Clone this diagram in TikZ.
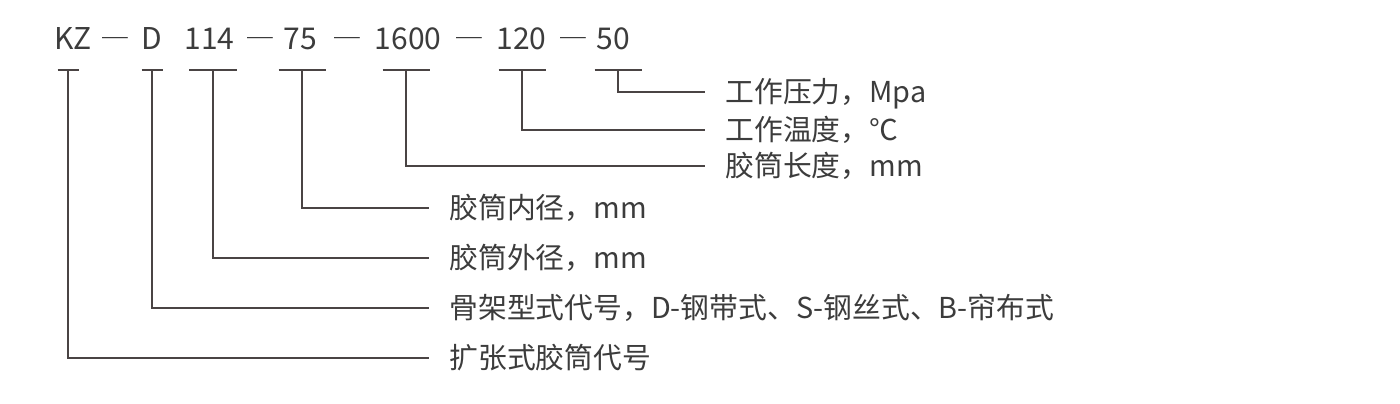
\documentclass[tikz,border=0pt]{standalone}
\usepackage{fontspec}
\setmainfont{Noto Sans CJK SC}
\definecolor{txtgray}{HTML}{3C3C3C}
\definecolor{linegray}{HTML}{4A4444}
\newcommand{\codedash}{\scalebox{0.86}[1]{─}}

\begin{document}
\begin{tikzpicture}[x=0.5pt, y=-0.5pt,
  code/.style={font=\fontsize{15}{18}\selectfont, anchor=base, inner sep=0pt, text=txtgray},
  lab/.style={font=\fontsize{14.4}{17}\selectfont, anchor=west, inner sep=0pt, text=txtgray, text height=11.8pt, text depth=1.6pt},
  bar/.style={line width=0.7pt, draw=linegray},
  conn/.style={line width=0.7pt, draw=linegray, shorten >=10pt}]

\useasboundingbox (0,0) rectangle (1400,403);

% Model code
\node[code] (kz) at (73,49) {KZ};
\node[code] (dash1) at (115.5,49) {\codedash};
\node[code] (frame) at (151.5,49) {D};
\node[code] (outer) at (209.5,49) {114};
\node[code] (dash2) at (260,49) {\codedash};
\node[code] (inner) at (300,49) {75};
\node[code] (dash3) at (347,49) {\codedash};
\node[code] (len) at (408,49) {1600};
\node[code] (dash4) at (469.5,49) {\codedash};
\node[code] (temp) at (521.5,49) {120};
\node[code] (dash5) at (573.5,49) {\codedash};
\node[code] (pres) at (613.5,49) {50};

% Tick bars under the code
\coordinate (tkz) at (68,70);
\coordinate (tframe) at (152,70);
\coordinate (touter) at (213,70);
\coordinate (tinner) at (302,70);
\coordinate (tlen) at (406,70);
\coordinate (ttemp) at (522,70);
\coordinate (tpres) at (618,70);

\draw[bar] ([xshift=-5.25pt]tkz) -- ([xshift=5.25pt]tkz);
\draw[bar] ([xshift=-5.25pt]tframe) -- ([xshift=5.25pt]tframe);
\draw[bar] ([xshift=-12pt]touter) -- ([xshift=12pt]touter);
\draw[bar] ([xshift=-11.75pt]tinner) -- ([xshift=11.75pt]tinner);
\draw[bar] ([xshift=-11.75pt]tlen) -- ([xshift=11.75pt]tlen);
\draw[bar] ([xshift=-11.75pt]ttemp) -- ([xshift=11.75pt]ttemp);
\draw[bar] ([xshift=-11.75pt]tpres) -- ([xshift=11.75pt]tpres);

% Meanings
\node[lab] (lpres) at (725,92) {工作压力，Mpa};
\node[lab] (ltemp) at (725,130) {工作温度，℃};
\node[lab] (llen) at (725,166) {胶筒长度，mm};
\node[lab] (linner) at (449,208) {胶筒内径，mm};
\node[lab] (louter) at (449,258) {胶筒外径，mm};
\node[lab] (lframe) at (449,308) {骨架型式代号，D-钢带式、S-钢丝式、B-帘布式};
\node[lab] (lkz) at (449,358) {扩张式胶筒代号};

% Leaders
\draw[conn] (tpres) |- (lpres);
\draw[conn] (ttemp) |- (ltemp);
\draw[conn] (tlen) |- (llen);
\draw[conn] (tinner) |- (linner);
\draw[conn] (touter) |- (louter);
\draw[conn] (tframe) |- (lframe);
\draw[conn] (tkz) |- (lkz);

\end{tikzpicture}
\end{document}
